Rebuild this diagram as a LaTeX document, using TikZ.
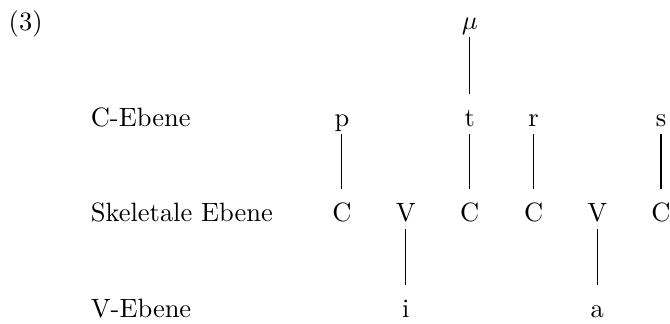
\documentclass[tikz,border=0pt]{standalone}
\usepackage{amsmath,amssymb}
\usepackage{tikz}

\begin{document}
\begin{tikzpicture}[x=1pt,y=1pt,semithick,
        seg/.style={anchor=base,inner xsep=0pt,inner ysep=2.3pt,text height=9.7pt,text depth=0pt},
        tier/.style={anchor=base west,inner sep=0pt}]
        \useasboundingbox (0,0) rectangle (253,-122.3);
        \node[tier] (num) at (3,-11.5) {(3)};
        \node[tier] (lc) at (34,-47.9) {C-Ebene};
        \node[tier] (ls) at (34,-83.8) {Skeletale Ebene};
        \node[tier] (lv) at (34,-120) {V-Ebene};

        \node[seg] (mu) at (177.4,-11.3) {$\mu$};
        \node[seg] (p) at (129.1,-47.9) {p};
        \node[seg] (t) at (177.4,-47.9) {t};
        \node[seg] (r) at (201.5,-47.9) {r};
        \node[seg] (s) at (249.6,-47.9) {s};
        \node[seg] (c1) at (129.1,-83.8) {C};
        \node[seg] (v1) at (153.2,-83.8) {V};
        \node[seg] (c2) at (177.4,-83.8) {C};
        \node[seg] (c3) at (201.5,-83.8) {C};
        \node[seg] (v2) at (225.5,-83.8) {V};
        \node[seg] (c4) at (249.6,-83.8) {C};
        \node[seg] (i) at (153.2,-120) {i};
        \node[seg] (a) at (225.5,-120) {a};

        \path[draw,thin] (mu) edge (t)
                  (p) edge (c1)
                  (t) edge (c2)
                  (r) edge (c3)
                  (s) edge (c4)
                  (v1) edge (i)
                  (v2) edge (a);
    \end{tikzpicture}
\end{document}
